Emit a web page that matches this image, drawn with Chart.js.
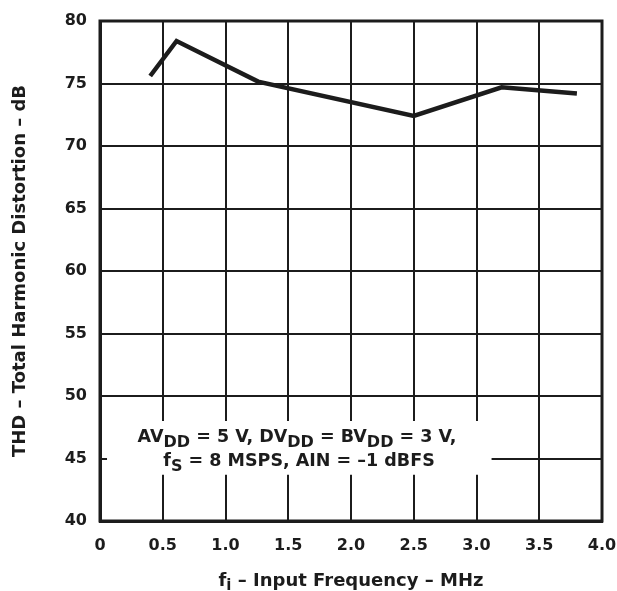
<!DOCTYPE html>
<html>
<head>
<meta charset="utf-8">
<script src="https://cdn.jsdelivr.net/npm/chart.js@4.4.0/dist/chart.umd.min.js"></script>
<style>
  html, body { margin: 0; padding: 0; background: #fff; }
  #wrap { width: 617px; height: 591px; }
</style>
</head>
<body>
<div id="wrap"><canvas id="myChart" width="617" height="591"></canvas></div>
<script>
// values
const freqMHz = [0.4, 0.61, 1.26, 2.5, 3.2, 3.8]
const thdDb = [75.6, 78.4, 75.15, 72.4, 74.7, 74.2]

const xTicks = [0, 0.5, 1.0, 1.5, 2.0, 2.5, 3.0, 3.5, 4.0]
const yTicks = [40, 45, 50, 55, 60, 65, 70, 75, 80]

const ink = '#1c1c1c'
const fam = '"DejaVu Sans", "Liberation Sans", Arial, sans-serif'

// text with subscripts: [text, isSub]
function drawParts(ctx, parts, cx, y, size, subSize, subDrop) {
    let w = 0
    parts.forEach(p => {
        ctx.font = `bold ${p[1] ? subSize : size}px ${fam}`
        w += ctx.measureText(p[0]).width
    })
    let x = cx - w / 2
    parts.forEach(p => {
        ctx.font = `bold ${p[1] ? subSize : size}px ${fam}`
        ctx.fillText(p[0], x, p[1] ? y + subDrop : y)
        x += ctx.measureText(p[0]).width
    })
}

const extras = {
    id: 'extras',
    afterDraw(chart) {
        const ctx = chart.ctx
        const a = chart.chartArea
        const xs = chart.scales.x, ys = chart.scales.y
        ctx.save()
        // frame
        ctx.strokeStyle = ink
        ctx.lineWidth = 3
        ctx.strokeRect(a.left, a.top, a.right - a.left, a.bottom - a.top)

        // conditions note, white box over the grid
        const bx0 = xs.getPixelForValue(0.056), bx1 = xs.getPixelForValue(3.12)
        const by0 = ys.getPixelForValue(48.0), by1 = ys.getPixelForValue(43.7)
        ctx.fillStyle = '#fff'
        ctx.fillRect(bx0, by0, bx1 - bx0, by1 - by0)
        ctx.fillStyle = ink
        ctx.textBaseline = 'alphabetic'
        ctx.textAlign = 'left'
        const cx = xs.getPixelForValue(1.57)
        drawParts(ctx, [['AV', false], ['DD', true], [' = 5 V, DV', false], ['DD', true],
            [' = BV', false], ['DD', true], [' = 3 V,', false]], cx, by0 + 21, 17.5, 16, 5)
        drawParts(ctx, [['f', false], ['S', true], [' = 8 MSPS, AIN = \u20131 dBFS', false]],
            cx + 2, by0 + 45, 17.5, 16, 4.5)

        // x axis title with subscript
        drawParts(ctx, [['f', false], ['i', true], [' \u2013 Input Frequency \u2013 MHz', false]],
            (a.left + a.right) / 2, 586, 18, 15, 4)
        ctx.restore()
    }
}

new Chart(document.getElementById('myChart'), {
    type: 'scatter',
    data: {
        datasets: [{
            data: freqMHz.map((f, i) => ({ x: f, y: thdDb[i] })),
            showLine: true,
            borderColor: ink,
            borderWidth: 4.5,
            pointRadius: 0,
            tension: 0,
            borderJoinStyle: 'miter'
        }]
    },
    options: {
        responsive: false,
        animation: false,
        layout: { padding: { top: 21, right: 15, left: 0, bottom: 0 } },
        plugins: { legend: { display: false }, tooltip: { enabled: false } },
        scales: {
            x: {
                type: 'linear',
                min: 0, max: 4,
                afterBuildTicks: s => { s.ticks = xTicks.map(v => ({ value: v })) },
                afterFit: s => {
                    s.height = 70
                    s.paddingLeft = 0; s.paddingRight = 0
                },
                grid: { color: ink, lineWidth: 2, tickLength: 0, drawTicks: false },
                border: { display: true, color: ink, width: 3 },
                ticks: {
                    color: ink, padding: 15,
                    font: { family: fam, size: 16, weight: 'bold' },
                    callback: v => v === 0 ? '0' : v.toFixed(1)
                }
            },
            y: {
                min: 40, max: 80,
                afterBuildTicks: s => { s.ticks = yTicks.map(v => ({ value: v })) },
                afterFit: s => {
                    s.width = 100
                    s.paddingTop = 0; s.paddingBottom = 0
                },
                grid: { color: ink, lineWidth: 2, tickLength: 0, drawTicks: false },
                border: { display: true, color: ink, width: 3 },
                ticks: {
                    color: ink, padding: 13,
                    font: { family: fam, size: 16, weight: 'bold' }
                },
                title: {
                    display: true,
                    text: 'THD \u2013 Total Harmonic Distortion \u2013 dB',
                    color: ink,
                    font: { family: fam, size: 18, weight: 'bold' },
                    padding: { top: 10, bottom: 0 }
                }
            }
        }
    },
    plugins: [extras]
})
</script>
</body>
</html>
